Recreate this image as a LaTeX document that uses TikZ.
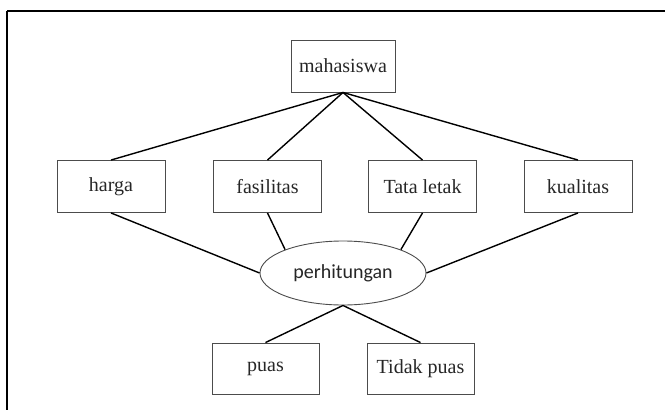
\documentclass[tikz,border=0pt]{standalone}
\usepackage{fontspec}
\setmainfont{Liberation Serif}
\newfontfamily\calib{Carlito}
\usetikzlibrary{shapes.geometric}
\begin{document}
\begin{tikzpicture}[x=1pt,y=-1pt,
  box/.style={draw=black!70,line width=0.9pt,rectangle,minimum width=108pt,minimum height=52pt,inner sep=0pt,
    font=\fontsize{20}{24}\selectfont,text=black!85},
  oval/.style={draw=black!70,line width=0.9pt,ellipse,minimum width=166pt,minimum height=64pt,inner sep=0pt,
    font=\calib\fontsize{20}{24}\selectfont,text=black!85},
  conn/.style={draw=black,line width=1.4pt},
  frame/.style={draw=black,line width=1.4pt}]
\useasboundingbox (0,0) rectangle (665,410);
\draw[frame] (7,11) -- (665,11);
\draw[frame] (7,11) -- (7,410);
\node[box,minimum width=104pt] (maha) at (343,66) {mahasiswa};
\node[box] (harga) at (111,186.5) {harga};
\node[box] (fas) at (267.5,186.5) {fasilitas};
\node[box] (tata) at (422.5,186.5) {Tata letak};
\node[box] (kual) at (578,186.5) {kualitas};
\node[oval] (ell) at (343,273) {perhitungan};
\node[box,minimum width=107pt,minimum height=51pt] (puas) at (265.5,368.5) {puas};
\node[box,minimum width=107pt,minimum height=51pt] (tidak) at (420.5,368.5) {Tidak puas};
\draw[conn] (maha.south) -- (harga.north);
\draw[conn] (maha.south) -- (fas.north);
\draw[conn] (maha.south) -- (tata.north);
\draw[conn] (maha.south) -- (kual.north);
\draw[conn] (harga.south) -- (ell.west);
\draw[conn] (fas.south) -- (ell.158);
\draw[conn] (tata.south) -- (ell.22);
\draw[conn] (kual.south) -- (ell.east);
\draw[conn] (ell.south) -- (puas.north);
\draw[conn] (ell.south) -- (tidak.north);
\end{tikzpicture}
\end{document}
